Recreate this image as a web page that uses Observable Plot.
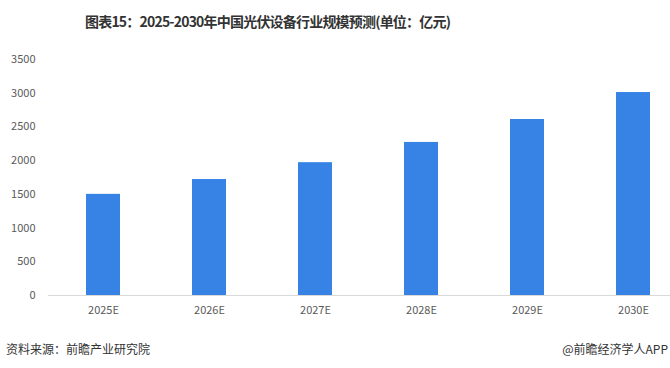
<!DOCTYPE html>
<html>
<head>
<meta charset="utf-8">
<script src="https://cdn.jsdelivr.net/npm/d3@7"></script>
<script src="https://cdn.jsdelivr.net/npm/@observablehq/plot@0.6"></script>
<style>
  html, body { margin: 0; padding: 0; background: #fff; }
  body { width: 670px; height: 368px; overflow: hidden; font-family: "Noto Sans CJK SC", "Noto Sans", sans-serif; position: relative; }
  #title { position: absolute; left: 85px; top: 11px; font-size: 14px; font-weight: bold; color: #333; letter-spacing: -0.8px; white-space: nowrap; }
  #chart { position: absolute; left: 0; top: 45px; }
  #src { position: absolute; left: 6px; top: 340px; font-size: 12px; color: #333; }
  #brand { position: absolute; right: 2px; top: 340px; font-size: 12px; color: #333; }
</style>
</head>
<body>
<div id="title">图表15：2025-2030年中国光伏设备行业规模预测(单位：亿元)</div>
<div id="chart"></div>
<div id="src">资料来源：前瞻产业研究院</div>
<div id="brand">@前瞻经济学人APP</div>
<script>
const years = ["2025E", "2026E", "2027E", "2028E", "2029E", "2030E"];
const values = [1500, 1720, 1970, 2270, 2610, 3010];
const yTicks = [0, 500, 1000, 1500, 2000, 2500, 3000, 3500];

const data = years.map((y, i) => ({year: y, value: values[i]}));

const chart = Plot.plot({
  width: 670,
  height: 290,
  marginTop: 14,
  marginBottom: 40,
  marginLeft: 48,
  marginRight: 0,
  style: {fontFamily: "'Noto Sans CJK SC', 'Noto Sans', sans-serif", fontSize: "11px", color: "#595959", background: "transparent"},
  x: {domain: years, range: [48, 688], paddingInner: 0.68, paddingOuter: 0.34, align: 0.5, label: null},
  y: {domain: [0, 3500], ticks: yTicks, label: null},
  marks: [
    Plot.barY(data, {x: "year", y: "value", fill: "#3683E5"}),
    Plot.ruleY([0], {stroke: "#d9d9d9", strokeWidth: 1}),
    Plot.axisX({tickSize: 0, tickPadding: 11, fontSize: 11, fill: "#595959"}),
    Plot.axisY({ticks: yTicks, tickFormat: d => String(d), tickSize: 0, tickPadding: 13, fontSize: 11, fill: "#595959"})
  ]
});
document.getElementById("chart").appendChild(chart);
</script>
</body>
</html>
